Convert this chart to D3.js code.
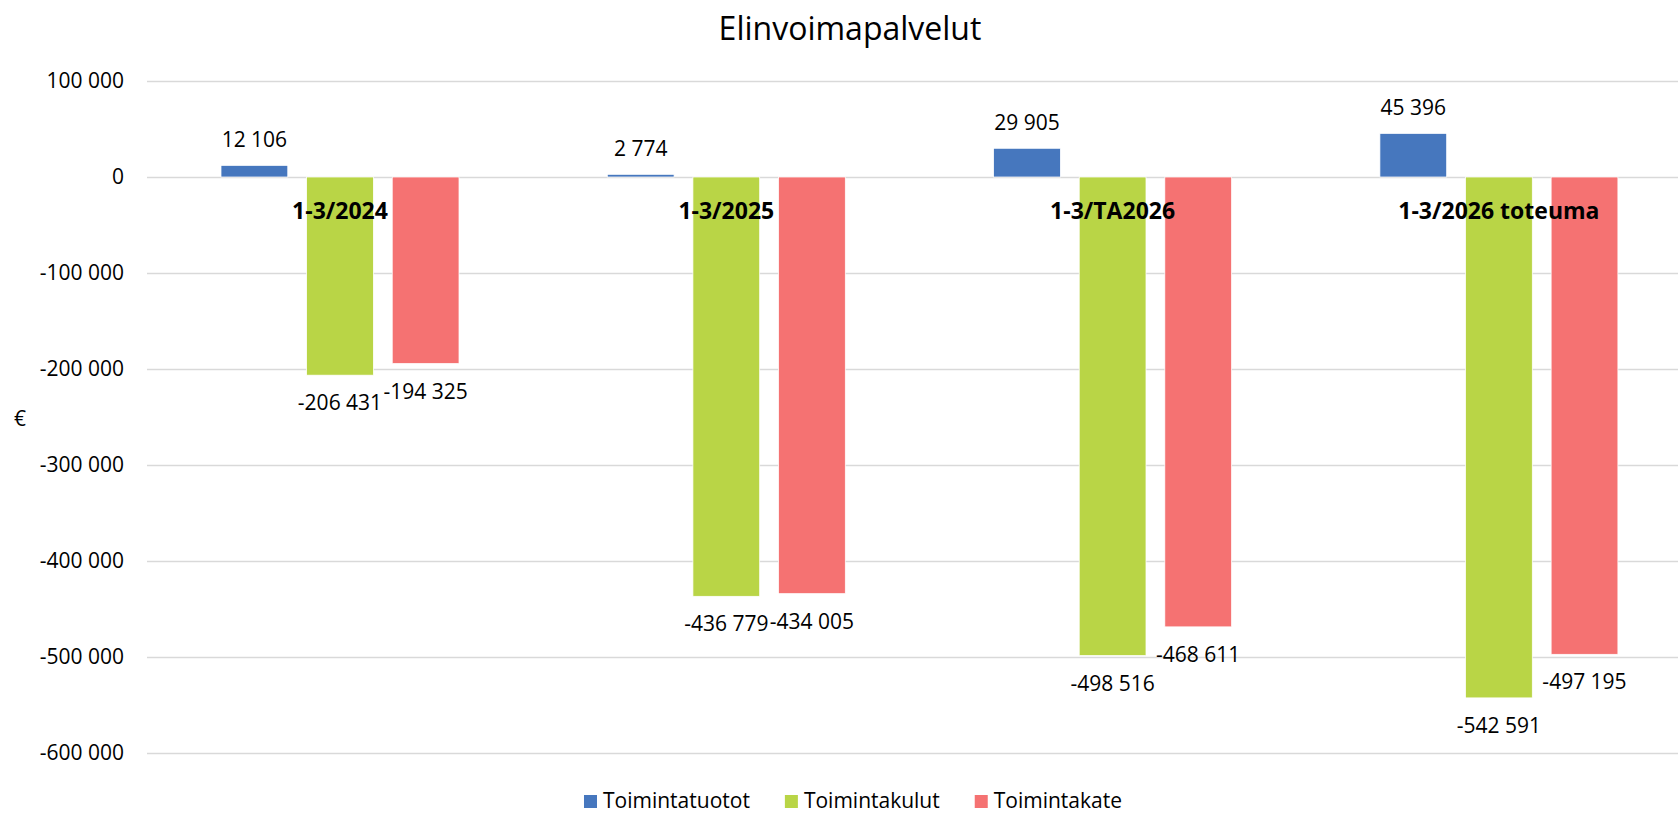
<!DOCTYPE html>
<html lang="fi">

<head>
    <meta charset="UTF-8">
    <title>Elinvoimapalvelut</title>
    <style>
        html, body {
            margin: 0;
            padding: 0;
            background: #fff;
            overflow: hidden;
        }
        svg text {
            font-family: "Open Sans", "DejaVu Sans", sans-serif;
            fill: #000;
        }
    </style>
</head>

<body>
    <div id="container"></div>

    <script type="text/javascript" src="https://d3js.org/d3.v7.min.js"></script>
    <script type="text/javascript">
        // Chart data
        var categories = ["1-3/2024", "1-3/2025", "1-3/TA2026", "1-3/2026 toteuma"];
        var seriesNames = ["Toimintatuotot", "Toimintakulut", "Toimintakate"];
        var toimintatuotot = [12106, 2774, 29905, 45396];
        var toimintakulut = [-206431, -436779, -498516, -542591];
        var toimintakate = [-194325, -434005, -468611, -497195];
        var yTicks = [100000, 0, -100000, -200000, -300000, -400000, -500000, -600000];
        var colors = ["#4677BE", "#B9D546", "#F57272"];

        var width = 1678, height = 813;
        var seriesValues = [toimintatuotot, toimintakulut, toimintakate];

        // Finnish style numbers: space as thousands separator, plain hyphen minus
        var fi = d3.formatLocale({ decimal: ",", thousands: " ", grouping: [3], currency: ["", " €"], minus: "-" });
        var fmt = fi.format(",.0f");

        var svg = d3.select("#container")
            .append("svg")
            .attr("width", width)
            .attr("height", height);

        // Plot area (the original chart runs off the right edge)
        var plotLeft = 147, step = 386.3;
        var x0 = d3.scaleBand()
            .domain(categories)
            .range([plotLeft, plotLeft + step * categories.length]);

        var x1 = d3.scaleBand()
            .domain(seriesNames)
            .range([74, 312])
            .paddingInner(0.22);

        var y = d3.scaleLinear()
            .domain([-600000, 100000])
            .range([753, 81]);

        // Title
        svg.append("text")
            .attr("x", 850)
            .attr("y", 27)
            .attr("text-anchor", "middle")
            .attr("dominant-baseline", "central")
            .style("font-size", "32px")
            .text("Elinvoimapalvelut");

        // Y axis with gridlines
        var yAxis = svg.append("g")
            .attr("class", "y-axis")
            .attr("transform", "translate(" + plotLeft + ",0)")
            .call(d3.axisLeft(y)
                .tickValues(yTicks)
                .tickFormat(fmt)
                .tickSize(-(width - plotLeft))
                .tickPadding(23));

        yAxis.select(".domain").remove();
        yAxis.selectAll(".tick line")
            .attr("stroke", "#D9D9D9")
            .attr("stroke-width", 1.5);
        yAxis.selectAll(".tick text")
            .style("font-size", "21px")
            .attr("fill", "#000");

        // Axis title
        svg.append("text")
            .attr("x", 20)
            .attr("y", 418)
            .attr("text-anchor", "middle")
            .attr("dominant-baseline", "central")
            .style("font-size", "21px")
            .text("€");

        // One group per category
        var rows = categories.map(function (c, i) {
            return {
                category: c,
                values: seriesNames.map(function (s, j) {
                    return { series: s, value: seriesValues[j][i], color: colors[j] };
                })
            };
        });

        var groups = svg.append("g")
            .attr("class", "bars")
            .selectAll("g.category")
            .data(rows)
            .enter()
            .append("g")
            .attr("class", "category")
            .attr("transform", function (d) {
                return "translate(" + x0(d.category) + ",0)";
            });

        groups.selectAll("rect")
            .data(function (d) { return d.values; })
            .enter()
            .append("rect")
            .attr("x", function (d) { return x1(d.series); })
            .attr("y", function (d) { return y(Math.max(0, d.value)); })
            .attr("width", x1.bandwidth())
            .attr("height", function (d) { return Math.abs(y(d.value) - y(0)); })
            .attr("fill", function (d) { return d.color; })
            .attr("stroke", "#fff")
            .attr("stroke-width", 0.75);

        // Value labels above / below the bar ends
        groups.selectAll("text.value")
            .data(function (d) { return d.values; })
            .enter()
            .append("text")
            .attr("class", "value")
            .attr("x", function (d) { return x1(d.series) + x1.bandwidth() / 2; })
            .attr("y", function (d) {
                return d.value >= 0 ? y(d.value) - 26 : y(d.value) + 27;
            })
            .attr("text-anchor", "middle")
            .attr("dominant-baseline", "central")
            .style("font-size", "21px")
            .text(function (d) { return fmt(d.value); });

        // Category labels sit just under the zero line, on top of the bars
        svg.append("g")
            .attr("class", "x-labels")
            .selectAll("text")
            .data(categories)
            .enter()
            .append("text")
            .attr("x", function (d) { return x0(d) + x1.range()[0] + (x1.range()[1] - x1.range()[0]) / 2; })
            .attr("y", y(0) + 33)
            .attr("text-anchor", "middle")
            .attr("dominant-baseline", "central")
            .style("font-size", "23px")
            .style("font-weight", "bold")
            .text(function (d) { return d; });

        // Legend, text baseline near the bottom edge like the original
        var legend = svg.append("g").attr("class", "legend");
        var lx = 0;
        seriesNames.forEach(function (s, i) {
            var item = legend.append("g").attr("transform", "translate(" + lx + ",0)");
            item.append("rect")
                .attr("x", 0)
                .attr("y", -13)
                .attr("width", 13)
                .attr("height", 13)
                .attr("fill", colors[i]);
            var t = item.append("text")
                .attr("x", 19)
                .attr("y", 0)
                .style("font-size", "21px")
                .text(s);
            lx += 19 + t.node().getComputedTextLength() + 35;
        });
        var legendWidth = lx - 35;
        legend.attr("transform", "translate(" + (853 - legendWidth / 2) + ",808)");
    </script>
</body>

</html>
